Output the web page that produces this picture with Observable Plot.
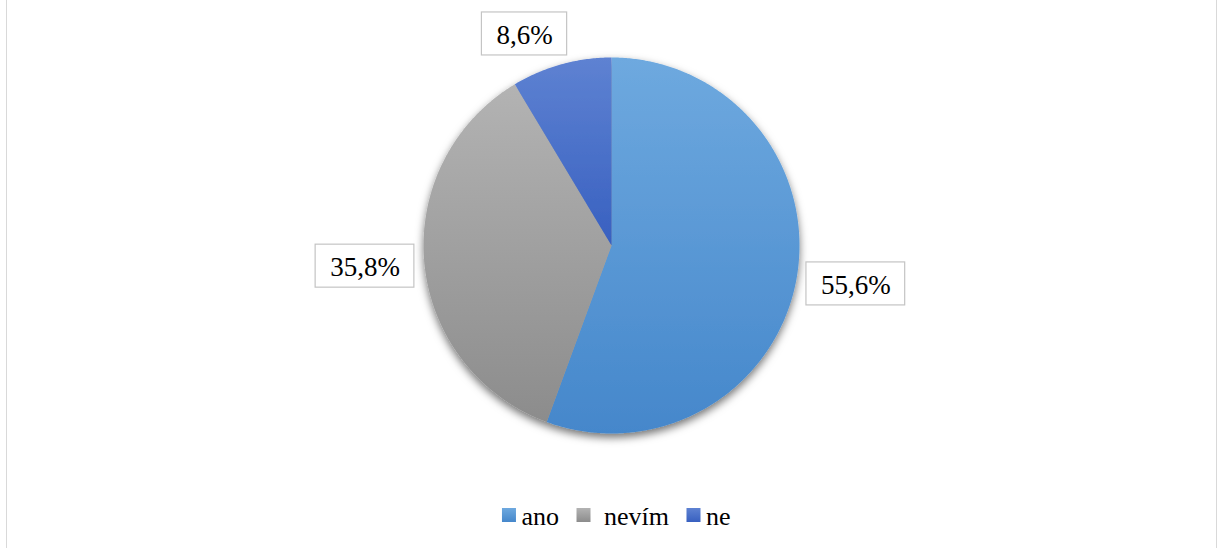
<!DOCTYPE html>
<html>
<head>
<meta charset="utf-8">
<script src="https://cdn.jsdelivr.net/npm/d3@7"></script>
<script src="https://cdn.jsdelivr.net/npm/@observablehq/plot@0.6"></script>
<style>
  html, body { margin: 0; padding: 0; background: #fff; }
  #wrap { position: relative; width: 1222px; height: 548px; overflow: hidden; }
  #frame { position: absolute; left: 6px; top: -10px; width: 1209px; height: 600px;
           border-left: 1px solid #d9d9d9; border-right: 1px solid #d9d9d9; pointer-events: none; }
  #wrap svg text { font-family: "Liberation Serif", "Times New Roman", Tinos, "DejaVu Serif", serif !important; }
</style>
</head>
<body>
<div id="wrap"><div id="frame"></div></div>
<script>
// ---- data ----
const categories = ["ano", "nevím", "ne"];
const values = [55.6, 35.8, 8.6];
const labels = ["55,6%", "35,8%", "8,6%"];

// ---- styles ----
const gradTop = ["#6ea9df", "#b3b3b3", "#5e82d2"];
const gradBottom = ["#4587cb", "#8c8c8c", "#3860c0"];

const W = 1222, H = 548;
const cx = 611, cy = 245, R = 188;
const font = '"Liberation Serif", "Times New Roman", Tinos, "DejaVu Serif", serif';
const labelSize = 27, legendSize = 26;

const ctx = document.createElement("canvas").getContext("2d");
function textWidth(s, size) { ctx.font = `${size}px ${font}`; return ctx.measureText(s).width; }

const data = categories.map((c, i) => ({category: c, value: values[i], label: labels[i], i}));
const arcs = d3.pie().sort(null).value(d => d.value)(data);

// slice polygons in pixel space (scales set 1:1)
const slices = arcs.map(a => {
  const pts = [{x: cx, y: cy}];
  const n = Math.max(2, Math.ceil((a.endAngle - a.startAngle) / (Math.PI / 360)));
  for (let k = 0; k <= n; k++) {
    const t = a.startAngle + (a.endAngle - a.startAngle) * k / n;
    pts.push({x: cx + R * Math.sin(t), y: cy - R * Math.cos(t)});
  }
  pts.push({x: cx, y: cy});
  return pts;
});

// label boxes, best-fit outside
const padX = 14.5, boxH = 43, gap = 10;
const boxes = arcs.map(a => {
  const m = (a.startAngle + a.endAngle) / 2;
  const ux = Math.sin(m), uy = -Math.cos(m);
  const w = textWidth(a.data.label, labelSize) + 2 * padX;
  const px = cx + (R + gap) * ux, py = cy + (R + gap) * uy;
  const x = px + Math.sign(ux) * Math.min(1, 3 * Math.abs(ux)) * w / 2;
  const y = py + uy * boxH / 2;
  return {x, y, x1: x - w / 2, x2: x + w / 2, y1: y - boxH / 2, y2: y + boxH / 2, label: a.data.label};
});

// legend layout
const sw = 14, legendY = 515;
const swGap = [5, 13, 5], itemGap = 18;
const widths = data.map(d => textWidth(d.category, legendSize));
let total = 0;
data.forEach((d, i) => { total += sw + swGap[i] + widths[i] + (i < data.length - 1 ? itemGap : 0); });
let lx = cx + 5 - total / 2;
const legendItems = data.map((d, i) => {
  const item = {sx1: lx, sx2: lx + sw, tx: lx + sw + swGap[i], category: d.category, i};
  lx += sw + swGap[i] + widths[i] + itemGap;
  return item;
});

const marks = [];
slices.forEach((pts, i) => {
  marks.push(Plot.line(pts, {x: "x", y: "y", fill: `url(#grad${i})`, stroke: "none", curve: "linear"}));
});
marks.push(Plot.rect(boxes, {x1: "x1", x2: "x2", y1: "y1", y2: "y2", fill: "white", stroke: "#c4c4c4", strokeWidth: 1.2}));
marks.push(Plot.text(boxes, {x: "x", y: "y", text: "label", fontSize: labelSize, fontFamily: font, fill: "#000", textAnchor: "middle", dy: 1}));
legendItems.forEach(it => {
  marks.push(Plot.rect([it], {x1: "sx1", x2: "sx2", y1: () => legendY - sw / 2, y2: () => legendY + sw / 2, fill: `url(#lgrad${it.i})`}));
});
marks.push(Plot.text(legendItems, {x: "tx", y: () => legendY, text: "category", fontSize: legendSize, fontFamily: font, fill: "#000", textAnchor: "start", dy: 1}));

const svg = Plot.plot({
  width: W, height: H,
  margin: 0,
  x: {domain: [0, W], range: [0, W], axis: null},
  y: {domain: [0, H], range: [0, H], axis: null},
  style: {background: "transparent", overflow: "visible"},
  marks
});

// defs: gradients + shadow
const sel = d3.select(svg);
sel.selectAll("text").attr("font-family", font);
const defs = sel.insert("defs", ":first-child");
gradTop.forEach((c, i) => {
  const g = defs.append("linearGradient").attr("id", `grad${i}`).attr("x1", 0).attr("y1", 0).attr("x2", 0).attr("y2", 1);
  g.append("stop").attr("offset", "0%").attr("stop-color", c);
  g.append("stop").attr("offset", "100%").attr("stop-color", gradBottom[i]);
  const lg = defs.append("linearGradient").attr("id", `lgrad${i}`).attr("x1", 0).attr("y1", 0).attr("x2", 0).attr("y2", 1);
  lg.append("stop").attr("offset", "0%").attr("stop-color", c);
  lg.append("stop").attr("offset", "100%").attr("stop-color", gradBottom[i]);
});
const f = defs.append("filter").attr("id", "shadow").attr("x", "-20%").attr("y", "-20%").attr("width", "140%").attr("height", "140%");
f.append("feDropShadow").attr("dx", 0).attr("dy", 4).attr("stdDeviation", 4).attr("flood-color", "#000").attr("flood-opacity", 0.55);

const lineGroups = sel.selectAll("g[aria-label='line']").nodes();
if (lineGroups.length) {
  const pg = d3.create("svg:g").attr("filter", "url(#shadow)").node();
  lineGroups[0].parentNode.insertBefore(pg, lineGroups[0]);
  lineGroups.forEach(n => pg.appendChild(n));
}

svg.style.position = "absolute";
svg.style.left = "0px";
svg.style.top = "0px";
document.getElementById("wrap").appendChild(svg);
</script>
</body>
</html>
